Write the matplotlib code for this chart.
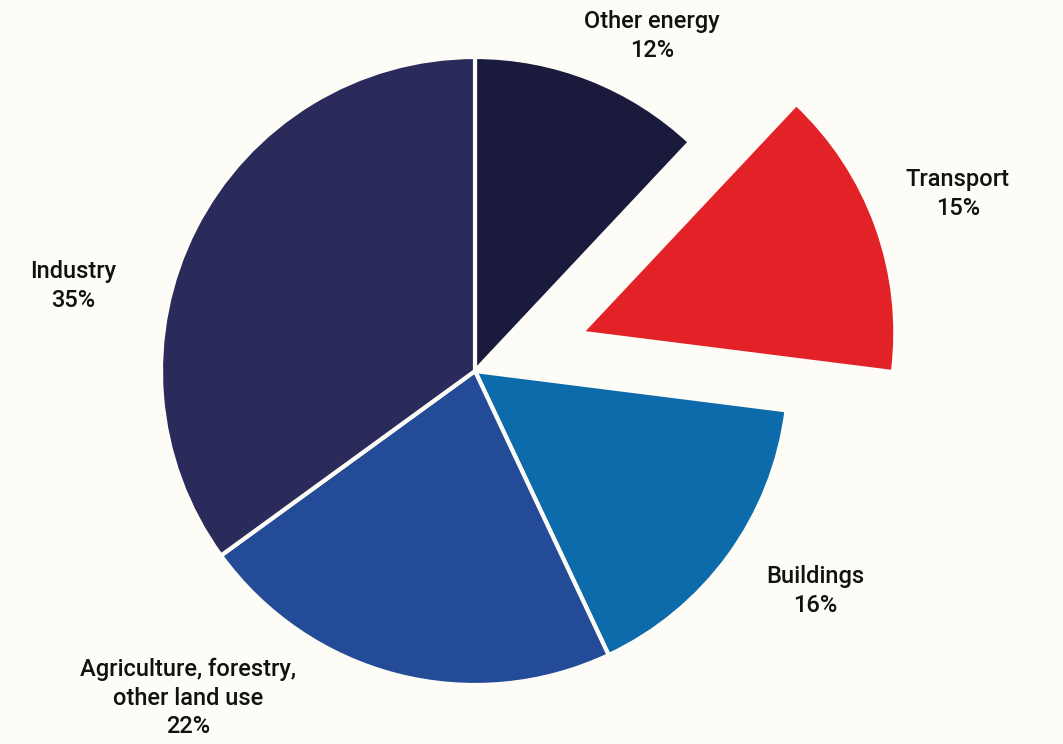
import matplotlib
matplotlib.use('Agg')
import matplotlib.pyplot as plt

# emissions share by sector, clockwise from 12 o'clock
sectors = ['Other energy', 'Transport', 'Buildings',
           'Agriculture, forestry,\nother land use', 'Industry']
shares = [12, 15, 16, 22, 35]
colors = ['#1a1a3d', '#e32228', '#0e6bab', '#244b97', '#2a2a5b']
explode = [0, 0.36, 0, 0, 0]   # fraction of radius

BG = '#fdfcf7'
R = 314

fig = plt.figure(figsize=(10.63, 7.44), dpi=100, facecolor=BG)
ax = fig.add_axes([0, 0, 1, 1])
ax.set_facecolor(BG)

# matplotlib's explode is absolute, so scale by the radius
ax.pie(shares, colors=colors, explode=[e * R for e in explode], startangle=90,
       counterclock=False, center=(475, 373), radius=R, frame=True,
       wedgeprops=dict(edgecolor=BG, linewidth=3))
ax.set_xlim(0, 1063)
ax.set_ylim(0, 744)
ax.set_aspect('equal')
ax.axis('off')

# label positions (pixel space, y up)
label_pos = [(652, 708), (958, 550), (815, 153), (188, 46), (73, 458)]
for i, (x, y) in enumerate(label_pos):
    ax.text(x, y, f'{sectors[i]}\n{shares[i]}%', ha='center', va='center',
            fontsize=17, fontfamily='Roboto', fontweight='medium',
            color='#111111', linespacing=1.3)

fig.savefig('out.png', dpi=100, facecolor=BG)
